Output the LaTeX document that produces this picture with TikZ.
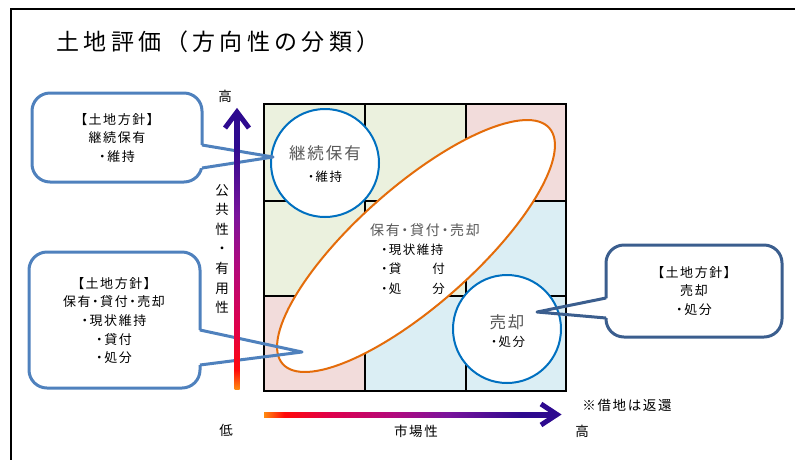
\documentclass[tikz,border=0pt]{standalone}
\usepackage{fontspec}
\setmainfont{Noto Sans CJK JP}
\newfontfamily\jpls[LetterSpace=12,RawFeature={+palt}]{Noto Sans CJK JP}
\newfontfamily\jpfw[LetterSpace=12]{Noto Sans CJK JP}
\newfontfamily\jptitle[LetterSpace=20,RawFeature={+palt}]{Noto Sans CJK JP}
\definecolor{gtext}{HTML}{595959}
\definecolor{cg}{HTML}{EBF1DE}
\definecolor{cp}{HTML}{F2DCDB}
\definecolor{cb}{HTML}{DBEEF4}
\definecolor{eorange}{HTML}{E46C0A}
\definecolor{cblue}{HTML}{0070C0}
\definecolor{coA}{HTML}{4F81BD}
\definecolor{coB}{HTML}{3B5E8E}
\definecolor{axO}{HTML}{FF8A10}
\definecolor{axR}{HTML}{FF0A0A}
\definecolor{axC}{HTML}{E0004A}
\definecolor{axM}{HTML}{B00A7E}
\definecolor{axP}{HTML}{7A149C}
\definecolor{axI}{HTML}{2E0A8F}
\pgfdeclarehorizontalshading{axgrad}{100bp}{color(0bp)=(axO); color(25bp)=(axO); color(28.5bp)=(axR); color(36bp)=(axC); color(47.5bp)=(axM); color(56.5bp)=(axP); color(69bp)=(axI); color(100bp)=(axI)}
\tikzset{
  cotext/.style={font=\jpls\fontsize{13}{18.7}\selectfont, align=center, inner sep=0},
  lab/.style={font=\jpls\fontsize{13.5}{19.6}\selectfont, inner sep=0, align=center},
  cobox/.style={line width=3pt, fill=white, rounded corners=18pt},
  cowedge/.style={line width=3pt, line join=round},
  bigcirc/.style={circle, draw=cblue, fill=white, line width=2pt, minimum size=108pt, inner sep=0},
  head/.style={font=\jpls\fontsize{16.5}{16.5}\selectfont, text=gtext, inner sep=0},
  item/.style={font=\jpls\fontsize{12.5}{19.5}\selectfont, inner sep=0},
  chev/.style={draw=axI, line width=5pt, line join=miter, line cap=butt}
}
\begin{document}
\begin{tikzpicture}[x=1pt,y=-1pt]
\useasboundingbox (0,0) rectangle (795,459);
\clip (0,0) rectangle (795,459);
% frame
\draw[line width=2.5pt] (11,470) -- (11,9) -- (800,9);
% title
\node[anchor=west, inner sep=0, font=\jptitle\fontsize{23}{23}\selectfont] (title) at (56,42) {土地評価\kern14pt（方向性の分類）};
% grid
\fill[cg] (264,104) rectangle (365,201);
\fill[cg] (365,104) rectangle (466,201);
\fill[cp] (466,104) rectangle (566,201);
\fill[cg] (264,201) rectangle (365,296);
\fill[cg] (365,201) rectangle (466,296);
\fill[cb] (466,201) rectangle (566,296);
\fill[cp] (264,296) rectangle (365,391);
\fill[cb] (365,296) rectangle (466,391);
\fill[cb] (466,296) rectangle (566,391);
\draw[line width=1.6pt] (365,104) -- (365,391) (466,104) -- (466,391)
  (264,201) -- (566,201) (264,296) -- (566,296);
\draw[line width=2.3pt] (264,104) rectangle (566,391);
% ellipse
\draw[draw=eorange, fill=white, line width=2pt, rotate around={41.5:(416,246)}] (416,246) ellipse [x radius=178, y radius=59];
\node[font=\jpls\fontsize{14}{14}\selectfont, text=gtext, inner sep=0] (eh) at (425,230) {保有・貸付・売却};
\node[item, anchor=west, align=left] (ei) at (381,269) {・現状維持\\・貸\kern3pt　　付\\・処\kern3pt　　分};
% circles
\node[bigcirc] (c1) at (325,163) {};
\node[head] (c1h) at (325,153) {継続保有};
\node[item] (c1i) at (325,177) {・維持};
\node[bigcirc] (c2) at (507,329) {};
\node[head] (c2h) at (507,322) {売却};
\node[item] (c2i) at (508,342) {・処分};
% callout 1
\draw[cobox, draw=coA] (32,93) rectangle (202,182);
\fill[white] (199,145) -- (206,145.7) -- (206,167.4) -- (199,168) -- cycle;
\coordinate (t1) at (273,157);
\draw[cowedge, draw=coA] (202,145) -- (t1) -- (202,168);
\node[cotext] (co1) at (117,138) {【土地方針】\\継続保有\\・維持};
% callout 2
\draw[cobox, draw=coA] (29,252) rectangle (200,388);
\fill[white] (197,330) -- (204,330.9) -- (204,364.5) -- (197,365) -- cycle;
\coordinate (t2) at (302,352);
\draw[cowedge, draw=coA] (200,330) -- (t2) -- (200,365);
\node[cotext] (co2) at (114,320.5) {【土地方針】\\保有・貸付・売却\\・現状維持\\・貸付\\・処分};
% callout 3
\draw[cobox, draw=coB] (606,245) rectangle (782,337);
\fill[white] (609,298) -- (602,299.4) -- (602,317.1) -- (609,318) -- cycle;
\coordinate (t3) at (537,312);
\draw[cowedge, draw=coB] (606,298) -- (t3) -- (606,318);
\node[cotext] (co3) at (694,291) {【土地方針】\\売却\\・処分};
% axes
\coordinate (vb) at (234.5,389);
\coordinate (vt) at (239.5,112);
\shade[shading=axgrad, shading angle=90] (vb) rectangle (vt);
\coordinate (vtip) at (237,112);
\draw[chev] (225,128) -- (vtip) -- (249,128);
\coordinate (hb) at (264,412);
\coordinate (ht) at (556,417);
\shade[shading=axgrad] (hb) rectangle (ht);
\coordinate (htip) at (557,414.5);
\draw[chev] (541,404) -- (htip) -- (541,425);
% labels
\node[lab] (hiY) at (225,96.5) {高};
\node[lab, font=\jpfw\fontsize{13.5}{19.6}\selectfont] (vlab) at (222,249) {公\\共\\性\\・\\有\\用\\性};
\node[lab] (lo) at (226,430) {低};
\node[lab] (mk) at (416,431) {市場性};
\node[lab] (hiX) at (582,431) {高};
\node[lab] (note) at (627,405) {※借地は返還};
\end{tikzpicture}
\end{document}
